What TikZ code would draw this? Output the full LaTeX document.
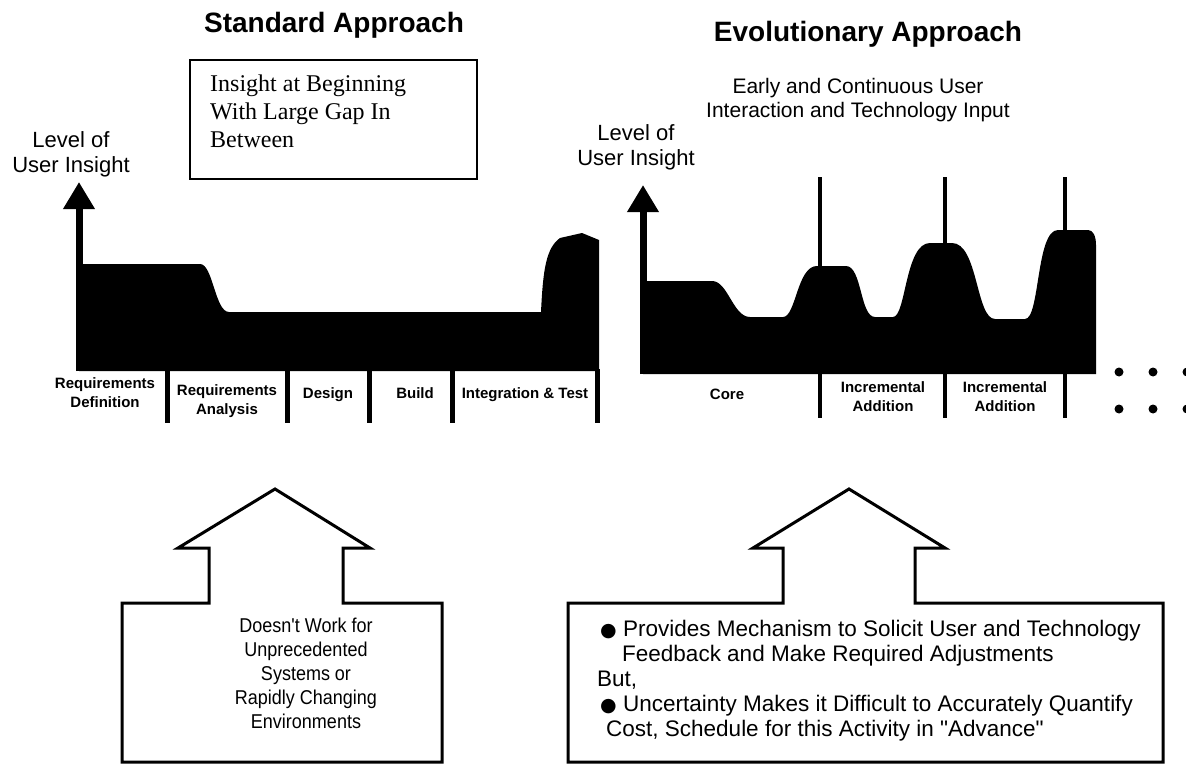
\documentclass[tikz,border=0pt]{standalone}
\usepackage{fontspec}
\setmainfont{Liberation Sans}
\newfontfamily\boxserif{Liberation Serif}
\newfontfamily\bulletfont{DejaVu Sans}
\newfontfamily\plainsans{Liberation Sans}
\newfontfamily\narrowsans[FakeStretch=0.9]{Liberation Sans}
\usetikzlibrary{arrows.meta}
\newcommand{\setfs}[2]{\fontsize{#1}{#2}\selectfont}
\newcommand{\blob}{{\bulletfont\setfs{19}{19}●}}
\begin{document}
\begin{tikzpicture}[x=1pt,y=-1pt,
    title/.style={font=\bfseries\setfs{28}{32}},
    axislbl/.style={font=\setfs{22}{25}, align=center, inner sep=0},
    phaselbl/.style={font=\bfseries\setfs{15}{19}, align=center, inner sep=0},
    divider/.style={line width=5pt},
    tallline/.style={line width=4.5pt},
    axis/.style={line width=7pt, -{Triangle[width=30pt,length=27pt]}},
    outline/.style={line width=3pt, line join=miter},
    remark/.style={font=\narrowsans\setfs{20}{24}, align=center, inner sep=0}]
  \useasboundingbox (0,0) rectangle (1186,765);

  % titles
  \node (stdtitle) [title, anchor=base] at (334,33) {Standard Approach};
  \node (evotitle) [title, anchor=base] at (868,42) {Evolutionary Approach};

  % standard approach
  \node (gapbox) [draw, line width=1.6pt, anchor=north west,
    minimum width=287pt, minimum height=119pt] at (189,59) {};
  \node (gaptext) [font=\boxserif\setfs{24}{28}, align=left, anchor=north west,
    inner sep=0] at (210,75) {Insight at Beginning\\With Large Gap In\\Between};
  \node (lvlL) [axislbl] at (71,154) {Level of\\User Insight};
  \coordinate (axL0) at (79,371);
  \coordinate (axL1) at (79,182);
  \fill (79,371) -- (79,264) -- (200,264)
    .. controls (213,264) and (215,312) .. (229,312) -- (541,312)
    .. controls (543,270) and (546,248) .. (560,238) -- (582,233)
    -- (599,240) -- (599,371) -- cycle;
  \draw[axis] (axL0) -- (axL1);
  \foreach \x in {167,287,369,452,597}
    \draw[divider] (\x,369) -- (\x,423);
  \node (reqdef) [phaselbl] at (105,393) {Requirements\\Definition};
  \node (reqana) [phaselbl] at (227,401) {Requirements\\Analysis};
  \node (design) [phaselbl] at (328,395) {Design};
  \node (build)  [phaselbl] at (415,393) {Build};
  \node (integ)  [phaselbl] at (525,395) {Integration \& Test};

  % evolutionary approach
  \node (early) [font=\setfs{21}{24}, align=center, inner sep=0] at (858,100)
    {Early and Continuous User\\Interaction and Technology Input};
  \node (lvlR) [axislbl] at (636,147) {Level of\\User Insight};
  \coordinate (axR0) at (643,374);
  \coordinate (axR1) at (643,185);
  \fill (643,374) -- (643,281) -- (712,281)
    .. controls (728,281) and (733,317) .. (750,317) -- (783,317)
    .. controls (796,317) and (797,266) .. (817,266) -- (846,266)
    .. controls (862,266) and (860,317) .. (875,317) -- (893,317)
    .. controls (906,317) and (905,243) .. (930,243) -- (952,243)
    .. controls (978,243) and (976,319) .. (995,319) -- (1025,319)
    .. controls (1040,319) and (1036,230) .. (1058,230) -- (1088,230)
    .. controls (1093,230) and (1096,236) .. (1096,245)
    -- (1096,374) -- cycle;
  \draw[axis] (axR0) -- (axR1);
  \foreach \x in {820,945,1065}
    \draw[tallline] (\x,177) -- (\x,418);
  \foreach \x in {1119,1153,1187}
    \foreach \y in {372,409}
      \fill (\x,\y) circle[radius=4.5];
  \node (core) [phaselbl] at (727,394) {Core};
  \node (inc1) [phaselbl] at (883,397) {Incremental\\Addition};
  \node (inc2) [phaselbl] at (1005,397) {Incremental\\Addition};

  % conclusions
  \draw[outline] (122,762) -- (122,603) -- (209,603) -- (209,548)
    -- (178,548) -- (275,489) -- (370,548) -- (343,548) -- (343,603)
    -- (442,603) -- (442,762) -- cycle;
  \node (nogo) [remark] at (306,673)
    {Doesn't Work for\\Unprecedented\\Systems or\\Rapidly Changing\\Environments};
  \draw[outline] (568,762) -- (568,603) -- (783,603) -- (783,548)
    -- (753,548) -- (849,489) -- (945,548) -- (915,548) -- (915,603)
    -- (1163,603) -- (1163,762) -- cycle;
  \node (upside) [font=\plainsans\setfs{22.5}{25}, align=left, anchor=north west,
    inner sep=0] at (597,620)
    {\hspace*{3pt}\blob\ Provides Mechanism to Solicit User and Technology\\
     \hspace*{25pt}Feedback and Make Required Adjustments\\
     But,\\
     \hspace*{3pt}\blob\ Uncertainty Makes it Difficult to Accurately Quantify\\
     \hspace*{9pt}Cost, Schedule for this Activity in "Advance"};
\end{tikzpicture}
\end{document}
